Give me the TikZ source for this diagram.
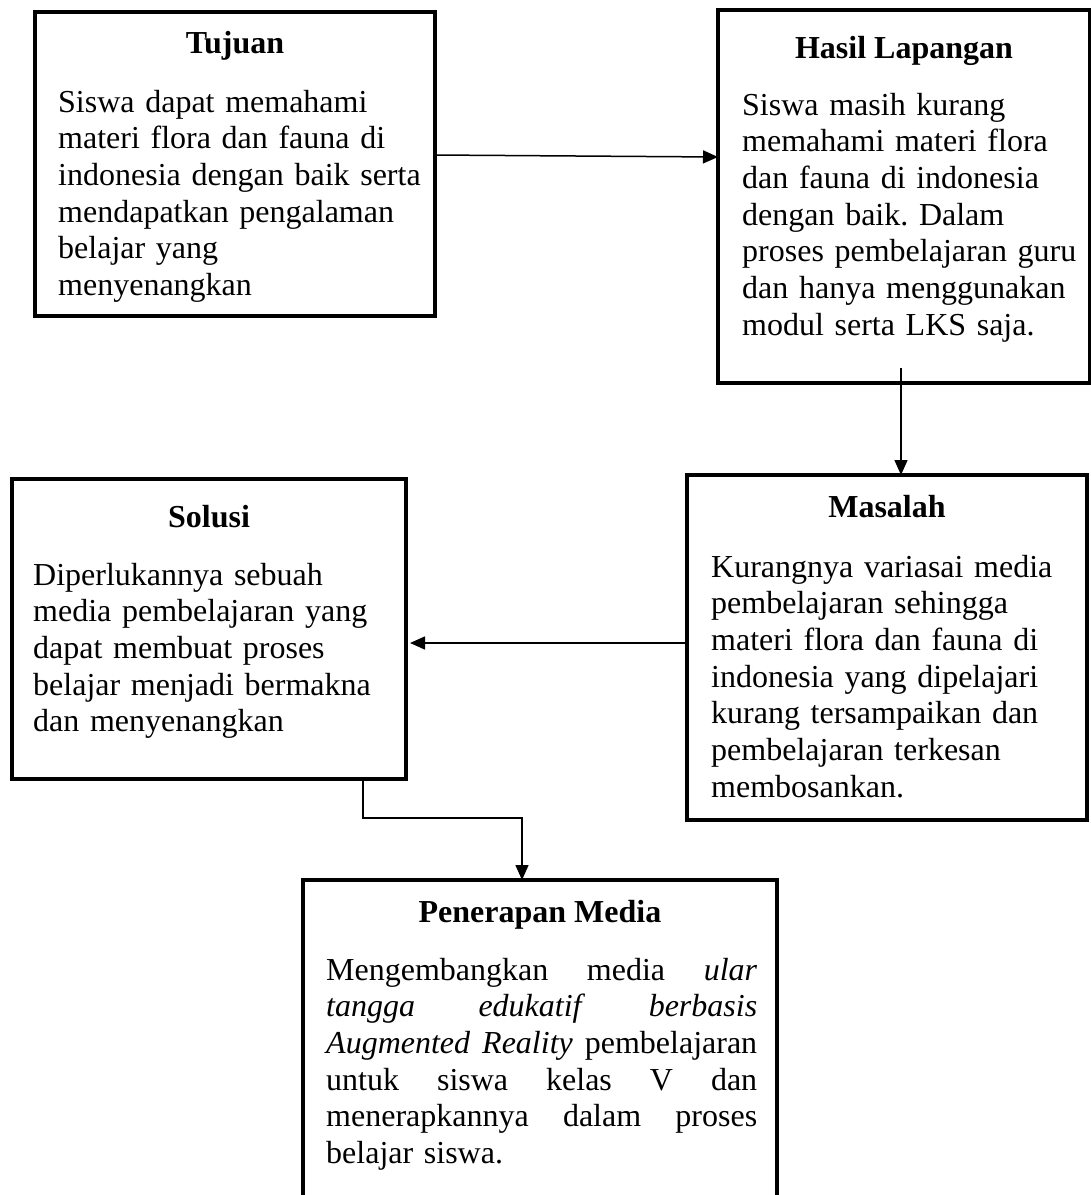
\documentclass[tikz,border=0pt]{standalone}
\usepackage{fontspec}
\setmainfont{Liberation Serif}
\usetikzlibrary{arrows.meta}
\newcommand{\jline}[1]{\leavevmode\hbox to 431pt{#1}}
\frenchspacing
\begin{document}
\begin{tikzpicture}[x=1pt,y=-1pt,
  box/.style={draw, line width=4.5pt, inner sep=0pt, outer sep=0pt, rectangle, anchor=north west},
  ttl/.style={font=\fontsize{32}{36.7}\selectfont\bfseries, anchor=base, inner sep=0pt},
  body/.style={font=\fontsize{32}{36.7}\selectfont, anchor=base west, inner sep=0pt, align=left, text width=#1},
  arr/.style={line width=1.5pt, -{Triangle[length=15pt,width=13pt]}}]
\useasboundingbox (0,0) rectangle (1091,1195);
% boxes
\node[box, minimum width=400pt, minimum height=304pt] (tuj) at (35,12) {};
\node[box, minimum width=372pt, minimum height=373pt] (has) at (718,10) {};
\node[box, minimum width=400pt, minimum height=345pt] (mas) at (687,475) {};
\node[box, minimum width=394pt, minimum height=300pt] (sol) at (12,479) {};
\node[box, minimum width=474pt, minimum height=340pt] (pen) at (303,880) {};
% titles
\node[ttl] (tujT) at (235,53) {Tujuan};
\node[ttl] (hasT) at (904,58) {Hasil Lapangan};
\node[ttl] (masT) at (887,517) {Masalah};
\node[ttl] (solT) at (209,527) {Solusi};
\node[ttl] (penT) at (540,922) {Penerapan Media};
% bodies
\node[body=370pt] (tujB) at (58,112) {Siswa dapat memahami\\
materi flora dan fauna di\\
indonesia dengan baik serta\\
mendapatkan pengalaman\\
belajar yang\\
menyenangkan};
\node[body=340pt] (hasB) at (742,115) {Siswa masih kurang\\
memahami materi flora\\
dan fauna di indonesia\\
dengan baik. Dalam\\
proses pembelajaran guru\\
dan hanya menggunakan\\
modul serta LKS saja.};
\node[body=360pt] (masB) at (711,577) {Kurangnya variasai media\\
pembelajaran sehingga\\
materi flora dan fauna di\\
indonesia yang dipelajari\\
kurang tersampaikan dan\\
pembelajaran terkesan\\
membosankan.};
\node[body=360pt] (solB) at (33,585) {Diperlukannya sebuah\\
media pembelajaran yang\\
dapat membuat proses\\
belajar menjadi bermakna\\
dan menyenangkan};
\node[body=431pt] (penB) at (326,980) {\jline{Mengembangkan\hfill media\hfill \textit{ular}}\\
\jline{\textit{tangga}\hfill\textit{edukatif}\hfill\textit{berbasis}}\\
\jline{\textit{Augmented}\hfill\textit{Reality}\hfill pembelajaran}\\
\jline{untuk\hfill siswa\hfill kelas\hfill V\hfill dan}\\
\jline{menerapkannya\hfill dalam\hfill proses}\\
belajar siswa.};
% connectors
\draw[arr] (tuj.east |- 0,155) -- (has.west |- 0,157);
\draw[arr] ([yshift=15pt]has.south -| 901,0) -- (mas.north -| 901,0);
\draw[arr, shorten >=4pt] (mas.west |- 0,643) -- (sol.east |- 0,643);
\draw[arr] (sol.south -| 363,0) -- (363,818) -- (522,818) -- (pen.north -| 522,0);
\end{tikzpicture}
\end{document}
